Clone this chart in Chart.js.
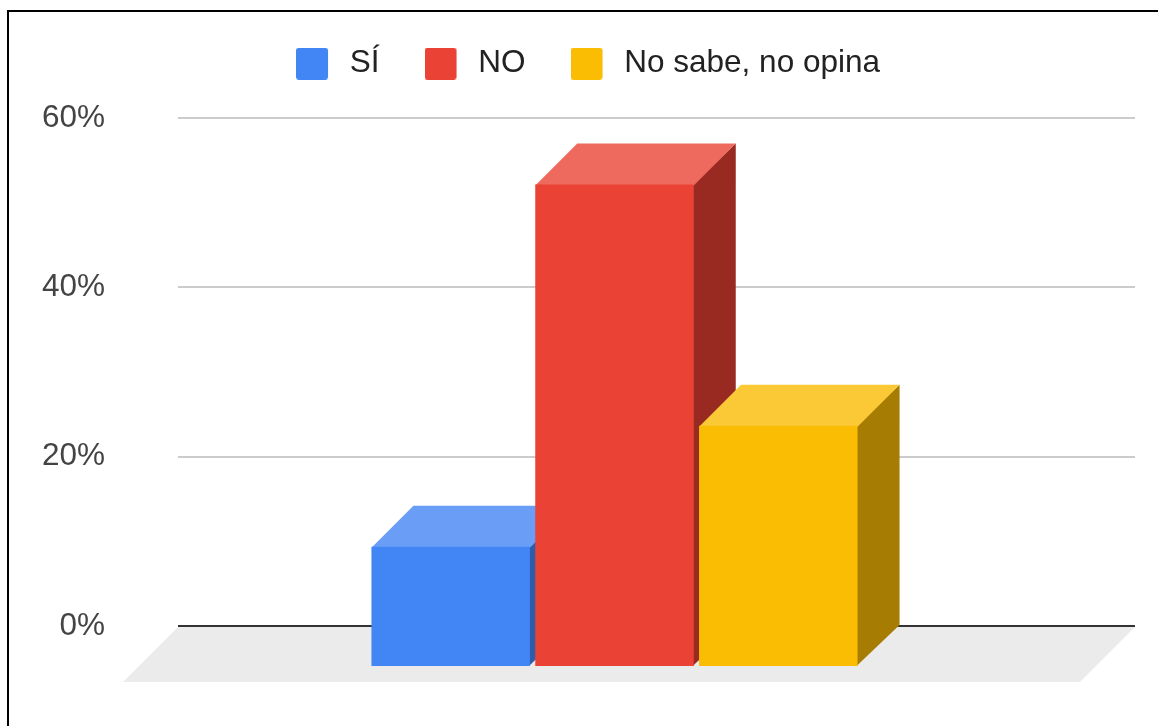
<!DOCTYPE html>
<html>
<head>
<meta charset="utf-8">
<script src="https://cdn.jsdelivr.net/npm/chart.js@4"></script>
<style>
  html, body { margin: 0; padding: 0; background: #fff; }
  #wrap { position: relative; width: 1158px; height: 726px; overflow: hidden; }
  #grafica { position: absolute; left: 0; top: 0; }
  #marco { position: absolute; left: 7px; top: 10px; width: 1200px; height: 800px;
           border-top: 2px solid #000; border-left: 2px solid #000; pointer-events: none; }
</style>
</head>
<body>
<div id="wrap">
  <canvas id="grafica" width="1158" height="726"></canvas>
  <div id="marco"></div>
</div>
<script>
// datos
const categorias = [''];
const respuestas = ['SÍ', 'NO', 'No sabe, no opina'];
const porcentajes = [14.2, 57, 28.5];
const ticksY = [0, 20, 40, 60];

// colores (frente, tapa, lado)
const colorFrente = ['#4285f4', '#ea4335', '#fbbc04'];
const colorTapa = ['#6a9ef6', '#ee6a5e', '#fbc836'];
const colorLado = ['#2e5caa', '#992a22', '#a67c02'];

const DX = 42;
const DY = 41;
const tamFuente = 31.5;
const fuente = '"Liberation Sans", Arial, sans-serif';

// cuadritos de la leyenda: 32px de color + hueco transparente
function cuadroLeyenda(color) {
    let c = document.createElement('canvas');
    c.width = 38;
    c.height = 32;
    let g = c.getContext('2d');
    g.fillStyle = color;
    g.beginPath();
    g.roundRect(0, 0, 32, 32, 3);
    g.fill();
    return c;
}
const cuadros = colorFrente.map(cuadroLeyenda);

function poligono(ctx, puntos, color) {
    ctx.fillStyle = color;
    ctx.beginPath();
    ctx.moveTo(puntos[0][0], puntos[0][1]);
    for (let k = 1; k < puntos.length; k++) ctx.lineTo(puntos[k][0], puntos[k][1]);
    ctx.closePath();
    ctx.fill();
}

const barras3d = {
    id: 'barras3d',
    beforeInit(chart) {
        if (!chart.legend) return;
        const fitOriginal = chart.legend.fit;
        chart.legend.fit = function() {
            fitOriginal.bind(chart.legend)();
            this.height += 28.5;
        };
    },
    beforeDatasetsDraw(chart) {
        const ctx = chart.ctx;
        const area = chart.chartArea;
        const y0 = chart.scales.y.getPixelForValue(0);

        ctx.save();
        // piso
        poligono(ctx, [
            [area.left, y0 + 1], [area.right, y0 + 1],
            [area.right - 55, y0 + 56], [area.left - 55, y0 + 56]
        ], '#ebebeb');

        chart.data.datasets.forEach((ds, i) => {
            const meta = chart.getDatasetMeta(i);
            meta.data.forEach(bar => {
                const {x, y, base, width} = bar.getProps(['x', 'y', 'base', 'width'], true);
                const x1 = x - width / 2;
                const x2 = x + width / 2;
                // lado y tapa se meten 1px bajo el frente para que no quede costura
                poligono(ctx, [[x2 - DX - 1, y + DY], [x2, y], [x2, base], [x2 - DX - 1, base + DY]], colorLado[i]);
                poligono(ctx, [[x1 - DX, y + DY + 1], [x2 - DX, y + DY + 1], [x2, y], [x1, y]], colorTapa[i]);
                ctx.save();
                ctx.translate(-DX, DY);
                bar.draw(ctx);
                ctx.restore();
            });
        });
        ctx.restore();
        return false;
    }
};

let ctx = document.getElementById('grafica').getContext('2d');
let grafica = new Chart(ctx, {
    type: 'bar',
    data: {
        labels: categorias,
        datasets: respuestas.map((r, i) => ({
            label: r,
            data: [porcentajes[i]],
            backgroundColor: colorFrente[i],
            borderWidth: 0,
            categoryPercentage: 0.5135,
            barPercentage: 0.9676
        }))
    },
    options: {
        responsive: false,
        animation: false,
        layout: { padding: { left: 41, right: 23, top: 3, bottom: 100 } },
        plugins: {
            tooltip: { enabled: false },
            legend: {
                position: 'top',
                labels: {
                    usePointStyle: true,
                    pointStyleWidth: 38,
                    padding: 45,
                    color: '#222',
                    font: { family: fuente, size: tamFuente },
                    generateLabels: function(chart) {
                        return chart.data.datasets.map((ds, i) => ({
                            text: ds.label,
                            pointStyle: cuadros[i],
                            fillStyle: colorFrente[i],
                            strokeStyle: colorFrente[i],
                            lineWidth: 0,
                            hidden: false,
                            fontColor: '#222',
                            datasetIndex: i
                        }));
                    }
                }
            }
        },
        scales: {
            x: { display: false },
            y: {
                min: ticksY[0],
                max: ticksY[ticksY.length - 1],
                afterFit: function(scale) { scale.width = 137; },
                border: { display: false },
                grid: {
                    drawTicks: false,
                    lineWidth: 2,
                    color: c => c.tick.value === 0 ? '#333' : '#cccccc'
                },
                ticks: {
                    stepSize: 20,
                    padding: 73,
                    color: '#444',
                    font: { family: fuente, size: tamFuente },
                    callback: v => v + '%'
                }
            }
        }
    },
    plugins: [barras3d]
});
</script>
</body>
</html>
